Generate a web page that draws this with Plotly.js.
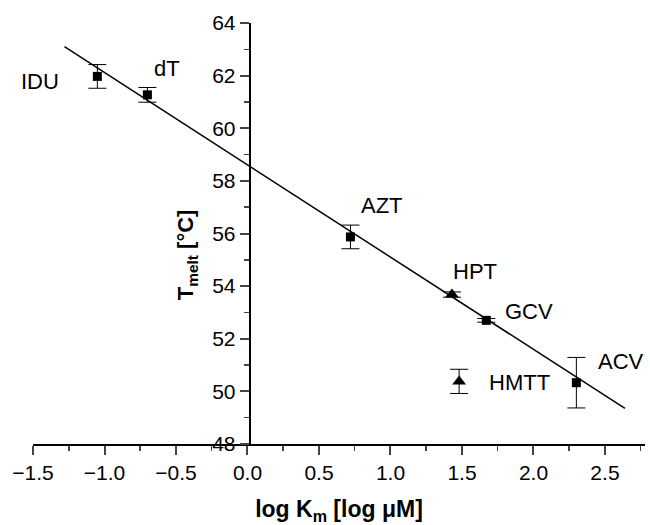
<!DOCTYPE html>
<html>
<head>
<meta charset="utf-8">
<script src="https://cdn.plot.ly/plotly-3.0.1.min.js"></script>
<style>html,body{margin:0;padding:0;background:#fff}#chart{width:650px;height:525px}</style>
</head>
<body>
<div id="chart"></div>
<script>
// Compounds drawn as squares
const sqNames = ['IDU', 'dT', 'AZT', 'GCV', 'ACV'];
const sqX = [-1.05, -0.70, 0.72, 1.67, 2.30];
const sqY = [61.97, 61.27, 55.87, 52.70, 50.33];
const sqErr = [0.45, 0.28, 0.45, 0.07, 0.96];

// Compounds drawn as triangles
const triNames = ['HPT', 'HMTT'];
const triX = [1.43, 1.48];
const triY = [53.68, 50.38];
const triErr = [0.10, 0.46];

// Linear fit line endpoints
const fitX = [-1.28, 2.64];
const fitY = [63.10, 49.35];

// Label anchor positions (data coords)
const labelNames = ['IDU', 'dT', 'AZT', 'HPT', 'GCV', 'ACV', 'HMTT'];
const labelX = [-1.45, -0.56, 0.94, 1.59, 1.97, 2.61, 1.90];
const labelY = [61.78, 62.28, 57.05, 54.55, 53.03, 51.12, 50.33];

const FONT = 'Liberation Sans, Arial, Helvetica, sans-serif';

const traces = [
  {
    x: fitX, y: fitY, type: 'scatter', mode: 'lines',
    line: {color: '#000', width: 1.5}, hoverinfo: 'skip', showlegend: false
  },
  {
    x: sqX, y: sqY, text: sqNames, type: 'scatter', mode: 'markers',
    marker: {symbol: 'square', size: 9, color: '#000'},
    error_y: {type: 'data', array: sqErr, visible: true, color: '#000', thickness: 1, width: 9},
    showlegend: false
  },
  {
    x: triX, y: triY, text: triNames, type: 'scatter', mode: 'markers',
    marker: {symbol: 'triangle-up', size: 12, color: '#000'},
    error_y: {type: 'data', array: triErr, visible: true, color: '#000', thickness: 1, width: 9},
    showlegend: false
  }
];

const annotations = labelNames.map((t, i) => ({
  x: labelX[i], y: labelY[i], xref: 'x', yref: 'y', text: t, showarrow: false,
  font: {family: FONT, size: 22, color: '#000'}, xanchor: 'center', yanchor: 'middle'
}));

annotations.push({
  x: 0.251, y: 0.45, xref: 'paper', yref: 'paper', textangle: -90,
  text: '<b>T<sub>melt</sub> [°C]</b>', showarrow: false,
  font: {family: FONT, size: 22, color: '#000'}, xanchor: 'center', yanchor: 'middle'
});

const layout = {
  width: 650, height: 525,
  margin: {l: 33, r: 5, t: 23, b: 81},
  paper_bgcolor: '#fff', plot_bgcolor: '#fff',
  font: {family: FONT, color: '#000', size: 21},
  showlegend: false,
  xaxis: {
    range: [-1.5, 2.78], tickmode: 'linear', tick0: -1.5, dtick: 0.5,
    tickformat: '.1f', ticks: 'outside', ticklen: 9, tickwidth: 2,
    minor: {dtick: 0.25, ticks: 'outside', ticklen: 5, tickwidth: 1.5},
    showline: true, linewidth: 2, linecolor: '#000', showgrid: false, zeroline: false,
    tickfont: {family: FONT, size: 21},
    title: {text: '<b>log K<sub>m</sub> [log μM]</b>', font: {family: FONT, size: 23}, standoff: 18}
  },
  yaxis: {
    range: [48, 64], tickmode: 'linear', tick0: 48, dtick: 2,
    anchor: 'free', position: 0.3541, side: 'left',
    ticks: 'outside', ticklen: 9, tickwidth: 2,
    minor: {dtick: 1, ticks: 'outside', ticklen: 5, tickwidth: 1.5},
    showline: true, linewidth: 2, linecolor: '#000', showgrid: false, zeroline: false,
    tickfont: {family: FONT, size: 21}
  },
  annotations: annotations
};

Plotly.newPlot('chart', traces, layout, {staticPlot: true, displayModeBar: false});
</script>
</body>
</html>
